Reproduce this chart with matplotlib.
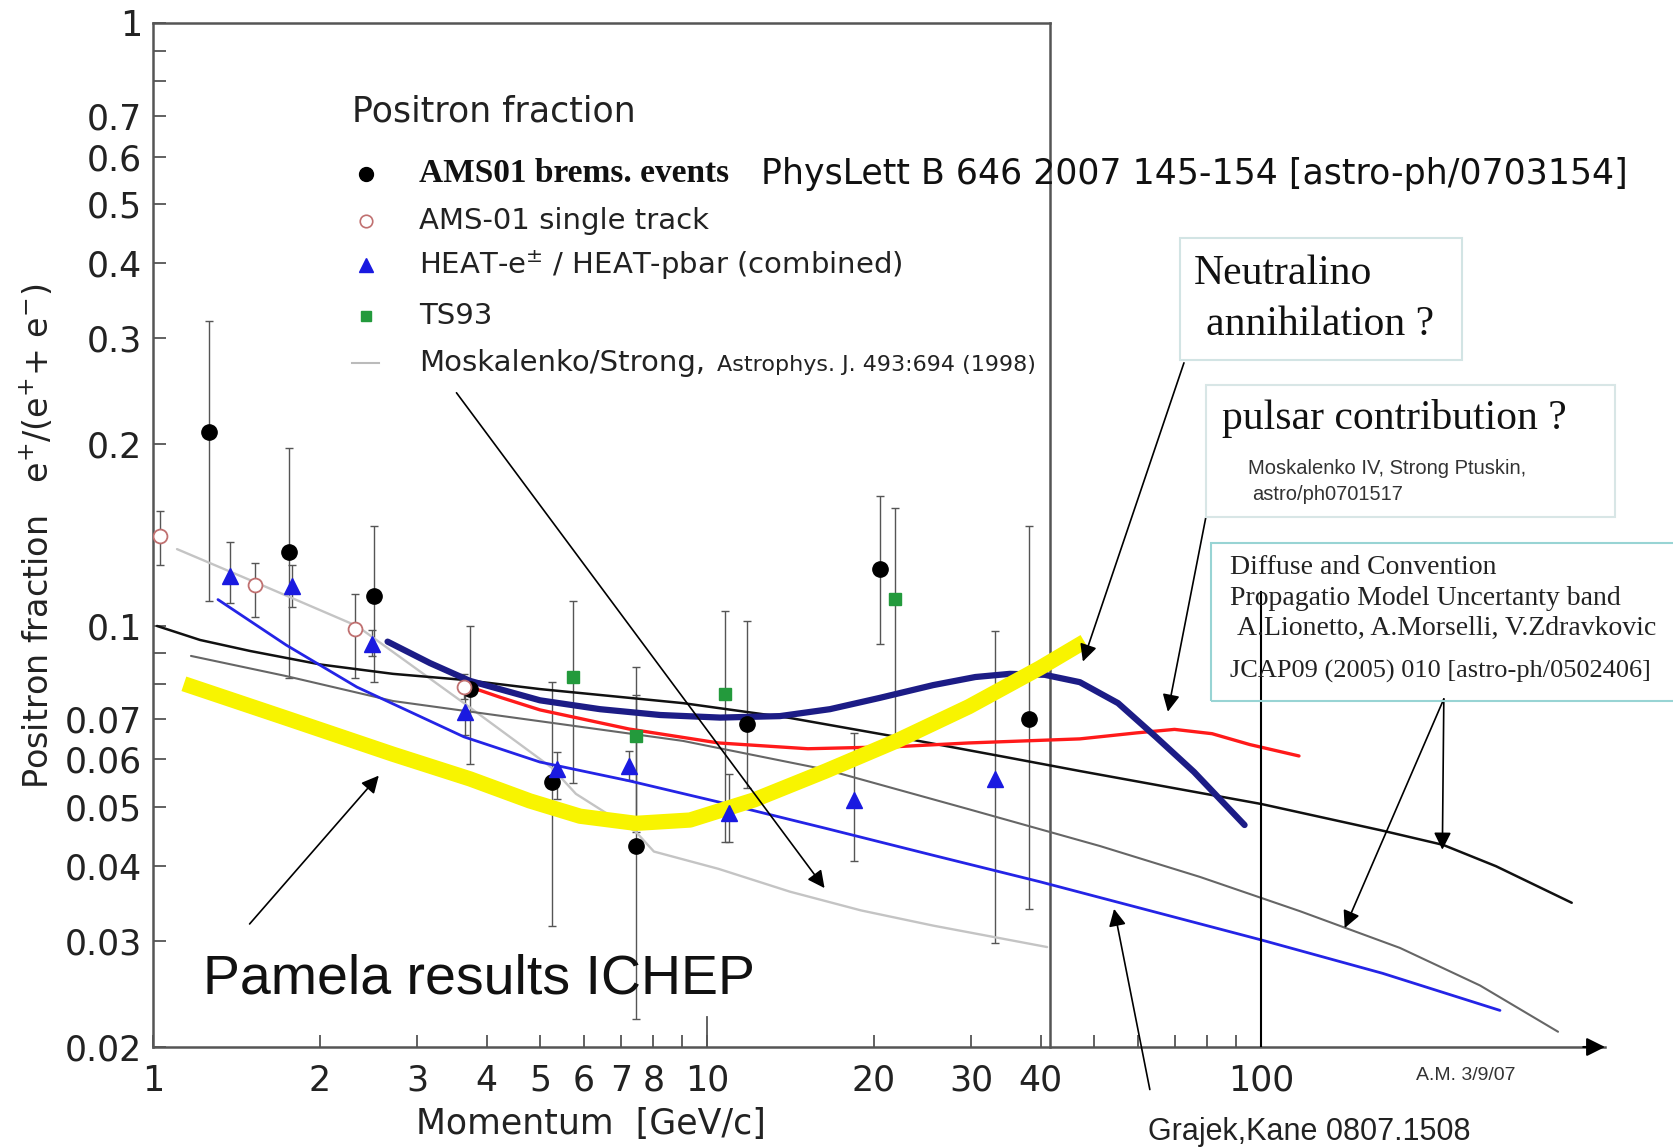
"""Positron fraction vs momentum: AMS01 / HEAT / TS93 with model curves."""
import matplotlib
matplotlib.use('Agg')
from matplotlib import pyplot as plt
from matplotlib.lines import Line2D
from matplotlib.patches import Rectangle
from matplotlib.ticker import NullFormatter

# ---- data (momentum in GeV/c, positron fraction) ----
ams_brems_p = [1.26, 1.76, 2.51, 3.73, 5.25, 7.44, 11.8, 20.5, 38.1]
ams_brems_f = [0.210, 0.1325, 0.112, 0.0785, 0.0550, 0.0431, 0.0687, 0.1242, 0.070]
ams_brems_hi = [0.320, 0.1975, 0.1464, 0.0999, 0.0806, 0.0854, 0.1020, 0.164, 0.1464]
ams_brems_lo = [0.110, 0.0819, 0.0806, 0.0590, 0.0318, 0.0223, 0.0537, 0.0934, 0.0339]

ams_single_p = [1.03, 1.53, 2.32, 3.64]
ams_single_f = [0.141, 0.1168, 0.0988, 0.0790]
ams_single_hi = [0.155, 0.127, 0.113, 0.0830]
ams_single_lo = [0.126, 0.1034, 0.0819, 0.0755]

heat_p = [1.38, 1.78, 2.49, 3.66, 5.37, 7.23, 10.97, 18.4, 33.1]
heat_f = [0.1209, 0.1164, 0.0934, 0.0719, 0.0578, 0.0586, 0.0489, 0.0514, 0.0557]
heat_hi = [0.1377, 0.126, 0.0984, 0.0774, 0.0618, 0.0620, 0.0567, 0.0664, 0.098]
heat_lo = [0.109, 0.1074, 0.0891, 0.0658, 0.0515, 0.0555, 0.0438, 0.0407, 0.0298]

ts93_p = [5.73, 7.44, 10.78, 21.8]
ts93_f = [0.0822, 0.0656, 0.0770, 0.1107]
ts93_hi = [0.1097, 0.0767, 0.1057, 0.1568]
ts93_lo = [0.0548, 0.0455, 0.0438, 0.0644]

# Moskalenko/Strong secondary production (light gray)
ms_p = [1.105, 1.528, 2.334, 3.642, 5.25, 5.80, 7.44, 8.02, 10.49, 14.12, 18.97, 25.6, 41.1]
ms_f = [0.1340, 0.1181, 0.0999, 0.0744, 0.0581, 0.0526, 0.0455, 0.0422, 0.0395,
        0.0362, 0.0337, 0.0318, 0.0293]

# diffuse/convection uncertainty band, upper and lower edge
band_hi_p = [1.017, 1.216, 1.497, 2.011, 2.712, 3.642, 4.995, 9.05, 14.12, 22.0, 34.4,
             47.1, 100.2, 165.8, 213, 265.6, 363.8]
band_hi_f = [0.0999, 0.0947, 0.0908, 0.0862, 0.0832, 0.0813, 0.0785, 0.0744, 0.0703,
             0.0654, 0.0606, 0.0574, 0.0506, 0.0457, 0.0433, 0.0399, 0.0347]
band_lo_p = [1.171, 1.739, 2.712, 5.43, 9.05, 16.4, 29.7, 51.2, 77.6, 117.6, 178.2, 248.5,
             343.7]
band_lo_f = [0.0891, 0.0825, 0.0750, 0.0687, 0.0644, 0.0577, 0.0496, 0.0431, 0.0383,
             0.0336, 0.0292, 0.0253, 0.0212]

# Grajek, Kane (blue)
gk_p = [1.310, 1.739, 2.334, 3.642, 4.995, 7.23, 10.49, 16.4, 25.6, 39.9, 100.2, 165.8, 270]
gk_f = [0.1105, 0.0929, 0.0791, 0.0654, 0.0594, 0.0553, 0.0510, 0.0461, 0.0416, 0.0376,
        0.0301, 0.0265, 0.0230]

# neutralino annihilation (navy)
neu_p = [2.651, 3.162, 3.734, 4.995, 6.41, 8.23, 10.56, 13.54, 16.67, 20.5, 25.6, 30.5,
         35.2, 40.7, 47.1, 55.2, 64.6, 75.7, 93.4]
neu_f = [0.0941, 0.0867, 0.0810, 0.0752, 0.0727, 0.0711, 0.0704, 0.0708, 0.0727, 0.0759,
         0.0797, 0.0822, 0.0832, 0.0829, 0.0806, 0.0744, 0.0654, 0.0572, 0.0467]

# pulsar contribution (red)
pul_p = [3.593, 4.23, 4.995, 7.23, 10.49, 15.21, 22.0, 29.7, 47.1, 59.6, 69.8, 81.6, 95.5,
         117.1]
pul_f = [0.0801, 0.0761, 0.0725, 0.0674, 0.0639, 0.0625, 0.0630, 0.0639, 0.0649, 0.0664,
         0.0673, 0.0662, 0.0635, 0.0608]

# Pamela results ICHEP (yellow)
pam_p = [1.137, 1.736, 2.712, 3.734, 4.79, 5.90, 7.44, 9.32, 12.16, 16.38, 22.0, 29.7,
         39.9, 48.0]
pam_f = [0.0801, 0.0703, 0.0612, 0.0557, 0.0512, 0.0483, 0.0470, 0.0476, 0.0514, 0.0574,
         0.0644, 0.0734, 0.0851, 0.0941]

x_major = [1, 2, 3, 4, 5, 6, 7, 8, 10, 20, 30, 40, 100]
x_labels = ['1', '2', '3', '4', '5', '6', '7', '8', '10', '20', '30', '40', '100']
x_minor = [9, 50, 60, 70, 80, 90]
y_major = [0.02, 0.03, 0.04, 0.05, 0.06, 0.07, 0.1, 0.2, 0.3, 0.4, 0.5, 0.6, 0.7, 1]
y_labels = ['0.02', '0.03', '0.04', '0.05', '0.06', '0.07', '0.1', '0.2', '0.3', '0.4',
            '0.5', '0.6', '0.7', '1']
y_minor = [0.08, 0.09, 0.8, 0.9]

# annotation arrows: (tail, head) in data coordinates
arrows = [((3.53, 0.2435), (16.3, 0.0367)),    # Moskalenko/Strong
          ((1.494, 0.0320), (2.556, 0.0564)),  # Pamela
          ((72.6, 0.273), (47.7, 0.0872)),     # neutralino
          ((79.5, 0.1512), (67.9, 0.0720)),    # pulsar
          ((213.8, 0.0756), (212.5, 0.0425)),  # band, upper
          ((213.8, 0.0756), (141.6, 0.0315)),  # band, lower
          ((63.0, 0.0170), (54.3, 0.0339))]    # Grajek, Kane

W, H = 1673, 1148


def fx(px):
    return px / W


def fy(py):
    return 1 - py / H


fig = plt.figure(figsize=(W / 100, H / 100), dpi=100)
ax = fig.add_axes([fx(153), fy(1047), (1605 - 153) / W, (1047 - 23) / H])
ax.set_xscale('log')
ax.set_yscale('log')
ax.set_xlim(1, 10 ** (1452 / 554))
ax.set_ylim(0.02, 1)

axis_col = '#555555'
for s in ['top', 'right']:
    ax.spines[s].set_visible(False)
for s in ['left', 'bottom']:
    ax.spines[s].set_color(axis_col)
    ax.spines[s].set_linewidth(1.8)

ax.set_xticks(x_major, labels=x_labels)
ax.set_xticks(x_minor, minor=True)
ax.set_yticks(y_major, labels=y_labels)
ax.set_yticks(y_minor, minor=True)
ax.xaxis.set_minor_formatter(NullFormatter())
ax.yaxis.set_minor_formatter(NullFormatter())
ax.tick_params(which='both', direction='in', length=9, width=1.3, color=axis_col,
               labelsize=25, labelcolor='#222222')
ax.tick_params(axis='x', pad=12)
ax.tick_params(axis='y', pad=8)

# original frame (top + right) and the long tick at 10 / line at 100
ax.plot([1, 41.6], [1, 1], color=axis_col, lw=1.8, clip_on=False)
ax.plot([41.6, 41.6], [0.02, 1], color=axis_col, lw=1.8, clip_on=False)
ax.plot([10, 10], [0.02, 0.0224], color=axis_col, lw=1.3)
ax.plot([100, 100], [0.02, 0.1138], color='black', lw=1.5, zorder=4)
ax.annotate('', xy=(1.0, 0), xytext=(0.985, 0), xycoords='axes fraction',
            arrowprops=dict(arrowstyle='-|>', color='black', lw=1.5, mutation_scale=28,
                            shrinkA=0, shrinkB=0), annotation_clip=False)

# model curves
curve_kw = dict(solid_joinstyle='round', solid_capstyle='round')
ax.plot(ms_p, ms_f, color='#c4c4c4', lw=1.7, zorder=2, **curve_kw)
ax.plot(band_hi_p, band_hi_f, color='#111111', lw=1.8, zorder=2, **curve_kw)
ax.plot(band_lo_p, band_lo_f, color='#666666', lw=1.5, zorder=2, **curve_kw)
ax.plot(gk_p, gk_f, color='#2424e6', lw=2.0, zorder=3, **curve_kw)
ax.plot(pul_p, pul_f, color='#ff1a1a', lw=2.4, zorder=3, **curve_kw)
ax.plot(neu_p, neu_f, color='#1c1c86', lw=4.5, zorder=3, **curve_kw)
ax.plot(pam_p, pam_f, color='#f8f400', lw=11, solid_capstyle='butt',
        solid_joinstyle='round', zorder=4)

# data points with error bars
err_kw = dict(fmt='none', ecolor='#555555', elinewidth=1.0, capsize=3, capthick=1.0,
              zorder=1)


def errs(f, hi, lo):
    return [[a - b for a, b in zip(f, lo)], [b - a for a, b in zip(f, hi)]]


ax.errorbar(ams_brems_p, ams_brems_f, yerr=errs(ams_brems_f, ams_brems_hi, ams_brems_lo),
            **err_kw)
ax.errorbar(ams_single_p, ams_single_f,
            yerr=errs(ams_single_f, ams_single_hi, ams_single_lo), **err_kw)
ax.errorbar(heat_p, heat_f, yerr=errs(heat_f, heat_hi, heat_lo), **err_kw)
ax.errorbar(ts93_p, ts93_f, yerr=errs(ts93_f, ts93_hi, ts93_lo), **err_kw)

ax.plot(ams_brems_p, ams_brems_f, 'o', color='black', ms=11, zorder=6)
ax.plot(ams_single_p, ams_single_f, 'o', mfc='white', mec='#c07070', mew=1.3, ms=10,
        zorder=6)
ax.plot(heat_p, heat_f, '^', color='#1a1ae0', ms=11, zorder=6)
ax.plot(ts93_p, ts93_f, 's', color='#239a3c', ms=8, zorder=6)

for (tail, head) in arrows:
    ax.annotate('', xy=head, xytext=tail,
                arrowprops=dict(arrowstyle='-|>', color='black', lw=1.2, mutation_scale=26,
                                shrinkA=0, shrinkB=0),
                annotation_clip=False, zorder=7)

# axis labels
fig.text(fx(591), fy(1124), 'Momentum  [GeV/c]', fontsize=25, color='#222222',
         ha='center', va='center')
fig.text(fx(37), fy(536), r'Positron fraction   e$^{+}$/(e$^{+}$+ e$^{-}$)', fontsize=24,
         color='#222222', rotation=90, ha='center', va='center')

# legend
fig.text(fx(352), fy(112), 'Positron fraction', fontsize=25, color='#222222', va='center')
fig.add_artist(Line2D([fx(366)], [fy(174)], marker='o', color='black', ms=10))
fig.add_artist(Line2D([fx(366)], [fy(221)], marker='o', mfc='white', mec='#c07070',
                      mew=1.2, ms=9))
fig.add_artist(Line2D([fx(366)], [fy(265)], marker='^', color='#1a1ae0', ms=10))
fig.add_artist(Line2D([fx(366)], [fy(316)], marker='s', color='#239a3c', ms=7))
fig.add_artist(Line2D([fx(352), fx(379)], [fy(363), fy(363)], color='#bbbbbb', lw=1.5))
fig.text(fx(419), fy(174), 'AMS01 brems. events', fontsize=24, fontweight='bold',
         family='Liberation Serif', color='#111111', va='center')
fig.text(fx(761), fy(174), 'PhysLett B 646 2007 145-154 [astro-ph/0703154]', fontsize=25,
         color='#111111', va='center')
fig.text(fx(419), fy(221), 'AMS-01 single track', fontsize=21, color='#222222', va='center')
fig.text(fx(419), fy(265), 'HEAT-e$^{\\pm}$ / HEAT-pbar (combined)', fontsize=21,
         color='#222222', va='center')
fig.text(fx(419), fy(316), 'TS93', fontsize=21, color='#222222', va='center')
fig.text(fx(419), fy(363), 'Moskalenko/Strong,', fontsize=21, color='#222222', va='center')
fig.text(fx(717), fy(365), 'Astrophys. J. 493:694 (1998)', fontsize=16, color='#222222',
         va='center')

# annotation boxes
box_kw = dict(transform=fig.transFigure, fill=False, lw=1.5)
fig.add_artist(Rectangle((fx(1180), fy(360)), (1462 - 1180) / W, (360 - 238) / H,
                         edgecolor='#d2e4e4', **box_kw))
fig.add_artist(Rectangle((fx(1206), fy(517)), (1615 - 1206) / W, (517 - 385) / H,
                         edgecolor='#d8e6e6', **box_kw))
fig.add_artist(Rectangle((fx(1211), fy(701)), (1690 - 1211) / W, (701 - 543) / H,
                         edgecolor='#98d4d4', **box_kw))

serif = 'Liberation Serif'
fig.text(fx(1194), fy(274), 'Neutralino', fontsize=30, family=serif, color='#111111',
         va='center')
fig.text(fx(1206), fy(325), 'annihilation ?', fontsize=30, family=serif, color='#111111',
         va='center')
fig.text(fx(1222), fy(419), 'pulsar contribution ?', fontsize=30, family=serif,
         color='#111111', va='center')
fig.text(fx(1248), fy(468), 'Moskalenko IV, Strong Ptuskin,', fontsize=14.5,
         family='Liberation Sans', color='#333333', va='center')
fig.text(fx(1252), fy(494), 'astro/ph0701517', fontsize=14.5, family='Liberation Sans',
         color='#333333', va='center')
fig.text(fx(1230), fy(567), 'Diffuse and Convention', fontsize=20, family=serif,
         color='#222222', va='center')
fig.text(fx(1230), fy(598), 'Propagatio Model Uncertanty band', fontsize=20, family=serif,
         color='#222222', va='center')
fig.text(fx(1237), fy(628), 'A.Lionetto, A.Morselli, V.Zdravkovic', fontsize=20,
         family=serif, color='#222222', va='center')
fig.text(fx(1230), fy(671), 'JCAP09 (2005) 010 [astro-ph/0502406]', fontsize=19,
         family=serif, color='#222222', va='center')

fig.text(fx(203), fy(980), 'Pamela results ICHEP', fontsize=40, family='Liberation Sans',
         color='#111111', va='center')
fig.text(fx(1148), fy(1132), 'Grajek,Kane 0807.1508', fontsize=22, family='Liberation Sans',
         color='#222222', va='center')
fig.text(fx(1416), fy(1076), 'A.M. 3/9/07', fontsize=14, family='Liberation Sans',
         color='#333333', va='center')

plt.savefig('out.png', dpi=100)
